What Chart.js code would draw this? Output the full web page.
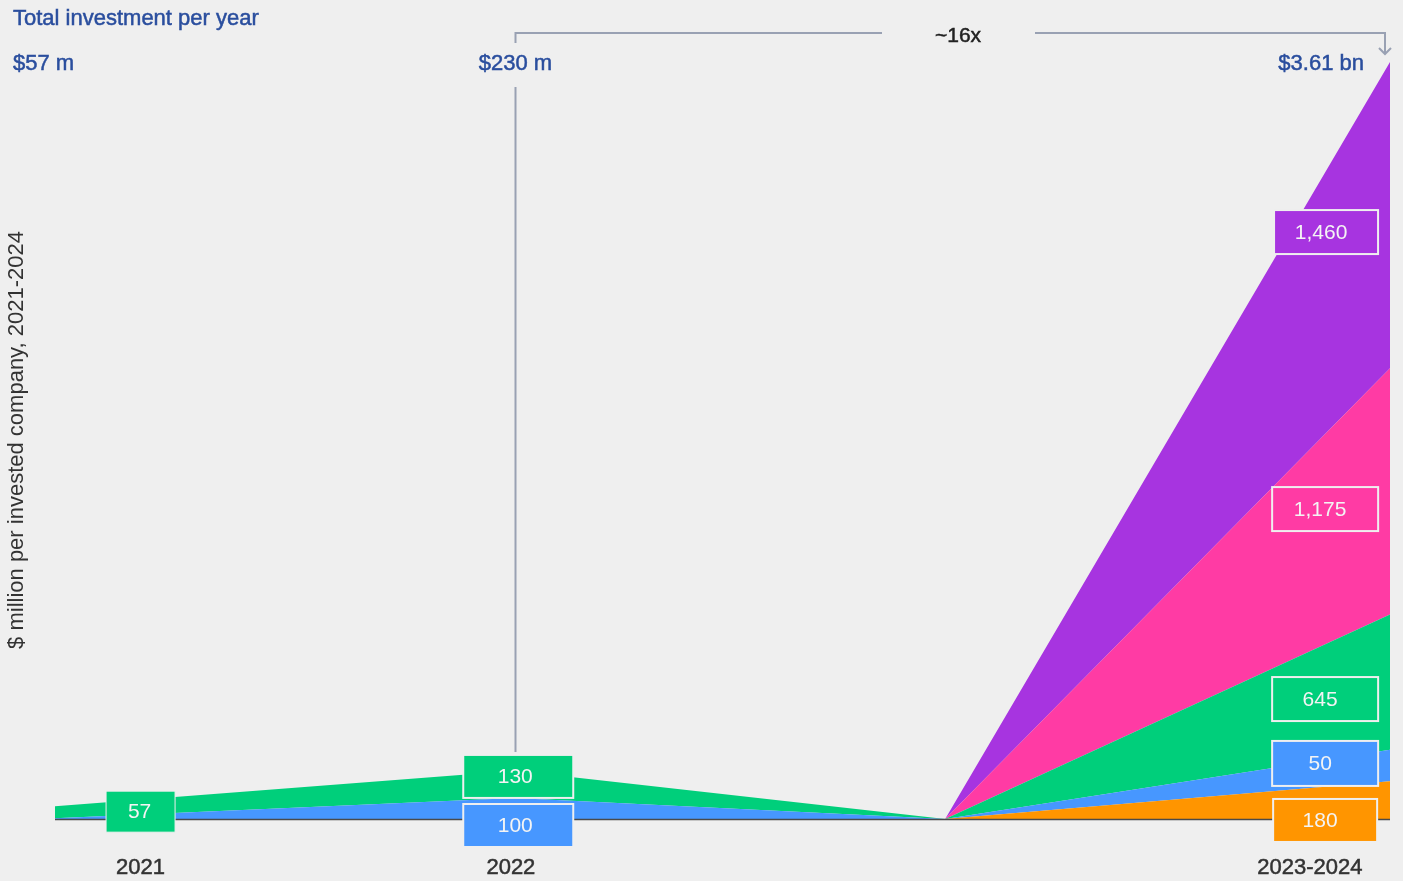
<!DOCTYPE html>
<html lang="en">
<head>
<meta charset="utf-8">
<title>Total investment per year</title>
<script src="https://cdn.jsdelivr.net/npm/chart.js@4.4.1/dist/chart.umd.min.js"></script>
<style>
  html, body { margin: 0; padding: 0; background: #efefef; }
  #wrap { position: relative; width: 1403px; height: 881px; }
</style>
</head>
<body>
<div id="wrap"><canvas id="investChart"></canvas></div>
<script>
// ============================================
// DATA
// ============================================

const periods = ["2021", "2022", "", "2023-2024"];
const timeline = [0, 1, 1.935, 2.902];          // where each period sits on the x axis

// stacked from the bottom up
const orangeValues = [0, 0, 0, 180];
const blueValues   = [4, 100, 0, 150];
const greenValues  = [57, 130, 0, 645];
const pinkValues   = [0, 0, 0, 1175];
const purpleValues = [0, 0, 0, 1460];

const tickValues = [0.186, 0.991, 2.728];
const tickLabels = ["2021", "2022", "2023-2024"];

const totalLabels = ["$57 m", "$230 m", "$3.61 bn"];
const growthLabel = "~16x";
const valueLabels = ["57", "130", "100", "1,460", "1,175", "645", "50", "180"];

const yMax = 3610;

// ============================================
// COLOURS / FONTS
// ============================================

const ORANGE = "#ff9500";
const BLUE = "#4797ff";
const GREEN = "#00cf7b";
const PINK = "#ff3ba4";
const PURPLE = "#a734e0";
const NAVY = "#2a4e9e";
const BG = "#efefef";
const LINE = "#99a1b3";
const FONT = "'Liberation Sans', Arial, sans-serif";

function series(values) {
  return values.map((v, i) => ({ x: timeline[i], y: v }));
}

function layer(label, values, color, fill) {
  return {
    label: label,
    data: series(values),
    backgroundColor: color,
    borderWidth: 0,
    pointRadius: 0,
    tension: 0,
    fill: fill
  };
}

// slightly heavier text (medium weight look)
function mediumText(ctx, text, x, y) {
  ctx.fillText(text, x, y);
  ctx.strokeStyle = ctx.fillStyle;
  ctx.lineWidth = 0.5;
  ctx.strokeText(text, x, y);
}

// ============================================
// ANNOTATIONS (boxes, totals, bracket)
// ============================================

const annotations = {
  id: "annotations",
  beforeDraw(chart) {
    const { ctx, width, height } = chart;
    ctx.save();
    ctx.fillStyle = BG;
    ctx.fillRect(0, 0, width, height);
    ctx.restore();
  },
  afterDatasetsDraw(chart) {
    const { ctx, chartArea, scales: { x, y } } = chart;
    ctx.save();

    // baseline
    ctx.strokeStyle = "#4a4a4a";
    ctx.lineWidth = 1.5;
    ctx.beginPath();
    ctx.moveTo(chartArea.left, y.getPixelForValue(0) + 0.5);
    ctx.lineTo(chartArea.right, y.getPixelForValue(0) + 0.5);
    ctx.stroke();

    // guide line from "$230 m" down to the 2022 boxes
    const x22 = Math.round(x.getPixelForValue(timeline[1])) + 0.5;
    ctx.strokeStyle = LINE;
    ctx.lineWidth = 2;
    ctx.beginPath();
    ctx.moveTo(x22, 87);
    ctx.lineTo(x22, 752);
    ctx.stroke();

    // bracket from 2022 to 2023-2024
    const xEnd = chartArea.right - 5;
    ctx.beginPath();
    ctx.moveTo(x22, 43);
    ctx.lineTo(x22, 33);
    ctx.lineTo(882, 33);
    ctx.moveTo(1035, 33);
    ctx.lineTo(xEnd, 33);
    ctx.lineTo(xEnd, 54);
    ctx.moveTo(xEnd - 6, 48);
    ctx.lineTo(xEnd, 54);
    ctx.lineTo(xEnd + 6, 48);
    ctx.stroke();

    // value boxes
    const boxes = [
      { text: valueLabels[0], color: GREEN,  cx: 0.186, cy: 35,   w: 69,  h: 41, bw: 1, dx: -1 },
      { text: valueLabels[1], color: GREEN,  cx: 1.007, cy: 203,  w: 110, h: 43, bw: 2, dx: -3 },
      { text: valueLabels[2], color: BLUE,   cx: 1.007, cy: -31,  w: 110, h: 43, bw: 2, dx: -3 },
      { text: valueLabels[3], color: PURPLE, cx: 2.763, cy: 2799, w: 104, h: 44, bw: 2, dx: -5 },
      { text: valueLabels[4], color: PINK,   cx: 2.761, cy: 1478, w: 106, h: 44, bw: 2, dx: -5 },
      { text: valueLabels[5], color: GREEN,  cx: 2.761, cy: 572,  w: 106, h: 44, bw: 2, dx: -5 },
      { text: valueLabels[6], color: BLUE,   cx: 2.761, cy: 265,  w: 106, h: 45, bw: 2, dx: -5 },
      { text: valueLabels[7], color: ORANGE, cx: 2.761, cy: -7,   w: 104, h: 43, bw: 2, dx: -5 }
    ];
    boxes.forEach(b => {
      const px = x.getPixelForValue(b.cx);
      const py = y.getPixelForValue(b.cy);
      ctx.fillStyle = b.color;
      ctx.fillRect(px - b.w / 2, py - b.h / 2, b.w, b.h);
      ctx.strokeStyle = BG;
      ctx.lineWidth = b.bw;
      ctx.strokeRect(px - b.w / 2, py - b.h / 2, b.w, b.h);
      ctx.fillStyle = "#f4f4f4";
      ctx.font = "21px " + FONT;
      ctx.textAlign = "center";
      ctx.textBaseline = "middle";
      ctx.fillText(b.text, px + b.dx, py + 1);
    });

    // x labels
    ctx.fillStyle = "#333333";
    ctx.font = "22px " + FONT;
    ctx.textAlign = "center";
    ctx.textBaseline = "middle";
    tickValues.forEach((v, i) => mediumText(ctx, tickLabels[i], x.getPixelForValue(v), 868));

    // title and totals
    ctx.fillStyle = NAVY;
    ctx.textAlign = "left";
    mediumText(ctx, "Total investment per year", 13, 19);
    mediumText(ctx, totalLabels[0], 13, 64);
    ctx.textAlign = "center";
    mediumText(ctx, totalLabels[1], x22, 64);
    ctx.textAlign = "right";
    mediumText(ctx, totalLabels[2], 1364, 64);

    // growth
    ctx.fillStyle = "#222222";
    ctx.textAlign = "center";
    ctx.font = "21px " + FONT;
    mediumText(ctx, growthLabel, 958, 36);

    // y title
    ctx.save();
    ctx.translate(17, 440);
    ctx.rotate(-Math.PI / 2);
    ctx.fillStyle = "#333";
    ctx.font = "22px " + FONT;
    ctx.fillText("$ million per invested company, 2021-2024", 0, 0);
    ctx.restore();

    ctx.restore();
  }
};

// ============================================
// CHART
// ============================================

document.addEventListener("DOMContentLoaded", () => {
  const canvas = document.getElementById("investChart");
  if (!canvas || !window.Chart) return;

  new Chart(canvas.getContext("2d"), {
    type: "line",
    data: {
      labels: periods,
      datasets: [
        layer("Orange", orangeValues, ORANGE, "origin"),
        layer("Blue", blueValues, BLUE, "-1"),
        layer("Green", greenValues, GREEN, "-1"),
        layer("Pink", pinkValues, PINK, "-1"),
        layer("Purple", purpleValues, PURPLE, "-1")
      ]
    },
    options: {
      responsive: true,
      maintainAspectRatio: false,
      animation: false,
      layout: { padding: { left: 55, right: 13, top: 62, bottom: 62 } },
      plugins: {
        legend: { display: false },
        tooltip: { enabled: false }
      },
      scales: {
        x: { type: "linear", display: false, min: timeline[0], max: timeline[3] },
        y: { stacked: true, display: false, min: 0, max: yMax }
      }
    },
    plugins: [annotations]
  });
});
</script>
</body>
</html>
